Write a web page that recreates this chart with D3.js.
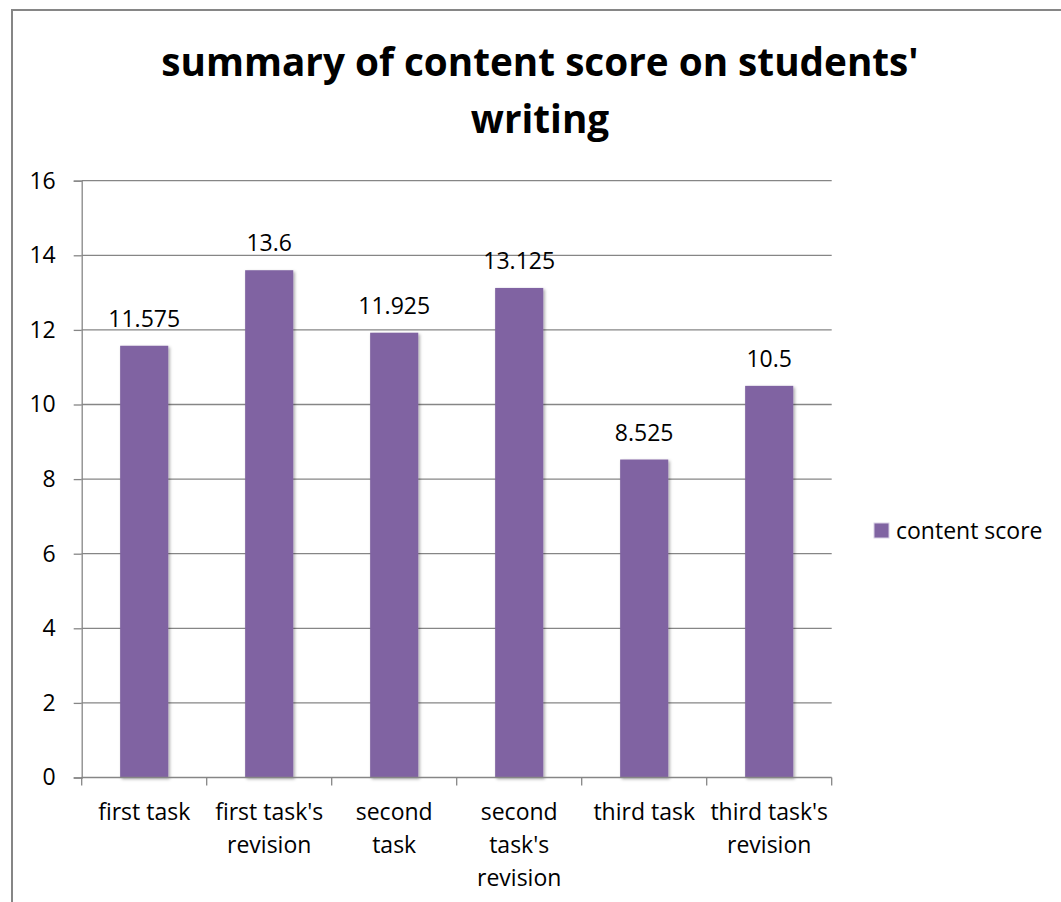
<html>
<head>
    <script src="https://cdnjs.cloudflare.com/ajax/libs/d3/7.8.5/d3.min.js"></script>
    <style>
        body { margin: 0; background: white; }
        svg { display: block; font-family: "Open Sans", sans-serif; }
    </style>
</head>
<body>
<svg id="chart"></svg>
<script>
    // chart data
    let categories = ["first task", "first task's revision", "second task",
                      "second task's revision", "third task", "third task's revision"];
    let tickLabels = [["first task"], ["first task's", "revision"], ["second", "task"],
                      ["second", "task's", "revision"], ["third task"], ["third task's", "revision"]];
    let contentScore = [11.575, 13.6, 11.925, 13.125, 8.525, 10.5];
    let valueLabels = ["11.575", "13.6", "11.925", "13.125", "8.525", "10.5"];
    let yTicks = [0, 2, 4, 6, 8, 10, 12, 14, 16];
    let seriesName = "content score";
    let titleLines = ["summary of content score on students'", "writing"];

    let width = 1061, height = 902;
    let plot = {left: 81.7, right: 831.7, top: 180.7, bottom: 777.5};
    let barColor = "#8064A2";
    let axisColor = "#868686";
    let fontSize = 23;

    let svg = d3.select("#chart").attr("width", width).attr("height", height);

    // shadow like the office chart bars
    let defs = svg.append("defs");
    let f = defs.append("filter").attr("id", "shadow")
        .attr("x", "-20%").attr("y", "-5%").attr("width", "150%").attr("height", "115%");
    f.append("feDropShadow").attr("dx", 1.5).attr("dy", 1.5)
        .attr("stdDeviation", 1.5).attr("flood-color", "#000").attr("flood-opacity", 0.35);

    // outer frame
    svg.append("rect")
        .attr("x", 12).attr("y", 10).attr("width", 1200).attr("height", 1000)
        .attr("fill", "white").attr("stroke", axisColor).attr("stroke-width", 2);

    // title
    svg.append("g").selectAll("text").data(titleLines).enter().append("text")
        .attr("x", 540).attr("y", (d, i) => 76 + i * 57)
        .attr("text-anchor", "middle")
        .attr("font-weight", "bold").attr("font-size", 38.7)
        .attr("fill", "#000")
        .text(d => d);

    let x = d3.scaleBand().domain(categories).range([plot.left, plot.right]).paddingInner(0).paddingOuter(0);
    let y = d3.scaleLinear().domain([0, 16]).range([plot.bottom, plot.top]);

    // gridlines
    svg.append("g").selectAll("line").data(yTicks.filter(d => d > 0)).enter().append("line")
        .attr("x1", plot.left).attr("x2", plot.right)
        .attr("y1", d => y(d)).attr("y2", d => y(d))
        .attr("stroke", axisColor).attr("stroke-width", 1.3);

    // y axis
    let yAxis = svg.append("g")
        .attr("transform", "translate(" + plot.left + ",0)")
        .call(d3.axisLeft(y).tickValues(yTicks).tickSize(8).tickPadding(18).tickFormat(d3.format("d")));
    yAxis.select(".domain").attr("stroke", axisColor).attr("stroke-width", 1.3);
    yAxis.selectAll(".tick line").attr("stroke", axisColor).attr("stroke-width", 1.3);
    yAxis.selectAll(".tick text").attr("font-size", fontSize).attr("fill", "#000")
        .attr("font-family", "'Open Sans', sans-serif");

    // bars
    let barW = x.bandwidth() * 0.385;
    svg.append("g").selectAll("rect").data(contentScore).enter().append("rect")
        .attr("x", (d, i) => x(categories[i]) + (x.bandwidth() - barW) / 2)
        .attr("y", d => y(d))
        .attr("width", barW)
        .attr("height", d => y(0) - y(d))
        .attr("fill", barColor)
        .attr("filter", "url(#shadow)");

    // value labels
    svg.append("g").selectAll("text").data(contentScore).enter().append("text")
        .attr("x", (d, i) => x(categories[i]) + x.bandwidth() / 2)
        .attr("y", d => y(d) - 19)
        .attr("text-anchor", "middle")
        .attr("font-size", fontSize).attr("fill", "#000")
        .text((d, i) => valueLabels[i]);

    // x axis
    let xAxis = svg.append("g")
        .attr("transform", "translate(0," + plot.bottom + ")");
    xAxis.append("line").attr("x1", plot.left).attr("x2", plot.right)
        .attr("stroke", axisColor).attr("stroke-width", 1.3);
    let edges = categories.map(c => x(c)).concat([plot.right]);
    xAxis.selectAll(".xt").data(edges).enter().append("line")
        .attr("class", "xt")
        .attr("x1", d => d).attr("x2", d => d).attr("y1", 0).attr("y2", 8)
        .attr("stroke", axisColor).attr("stroke-width", 1.3);
    let labels = xAxis.selectAll(".xl").data(categories).enter().append("text")
        .attr("class", "xl")
        .attr("text-anchor", "middle")
        .attr("font-size", fontSize).attr("fill", "#000");
    labels.each(function(d, i) {
        let t = d3.select(this);
        tickLabels[i].forEach((line, j) => {
            t.append("tspan")
                .attr("x", x(d) + x.bandwidth() / 2)
                .attr("y", 42 + j * 33)
                .text(line);
        });
    });

    // legend
    let legend = svg.append("g").attr("transform", "translate(874,523)");
    legend.append("rect").attr("width", 15).attr("height", 15)
        .attr("fill", barColor).attr("stroke", "#d9d2e6").attr("stroke-width", 1);
    legend.append("text").attr("x", 22).attr("y", 16)
        .attr("font-size", fontSize).attr("fill", "#000")
        .text(seriesName);
</script>
</body>
</html>
